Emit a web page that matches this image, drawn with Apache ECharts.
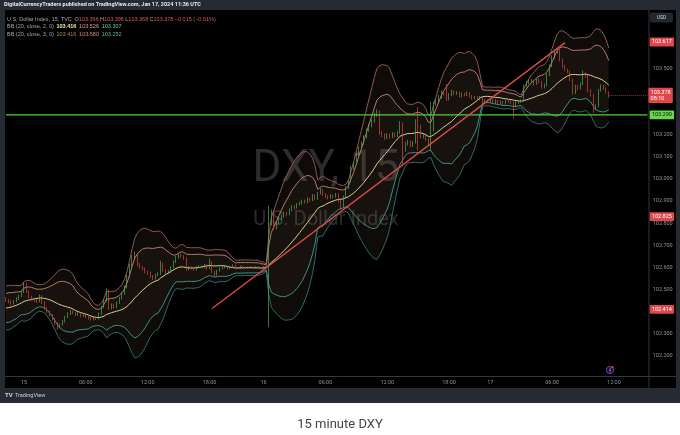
<!DOCTYPE html>
<html>
<head>
<meta charset="UTF-8">
<title>15 minute DXY</title>
<style>
  *{margin:0;padding:0;}
  html,body{background:#fff;}
  #chart{width:680px;height:435px;}
</style>
</head>
<body>
<div id="chart"></div>
<script src="https://cdn.jsdelivr.net/npm/echarts@6/dist/echarts.min.js"></script>
<script>
// 15 min closes before the visible window, only used to seed the bands
var preroll = [102.400,102.385,102.370,102.380,102.365,102.375,102.390,102.410,102.420,102.400,
  102.395,102.410,102.430,102.450,102.440,102.460,102.455,102.470,102.460];

var closes = [
  102.452,102.445,102.436,102.447,102.458,102.470,102.488,102.524,102.490,102.466,
  102.455,102.449,102.446,102.470,102.440,102.416,102.400,102.384,102.366,102.346,
  102.330,102.340,102.356,102.374,102.390,102.401,102.394,102.386,102.391,102.380,
  102.386,102.376,102.370,102.365,102.372,102.368,102.390,102.420,102.450,102.494,
  102.415,102.430,102.420,102.440,102.460,102.480,102.510,102.560,102.608,102.648,
  102.660,102.612,102.600,102.594,102.580,102.574,102.560,102.550,102.565,102.570,
  102.615,102.586,102.575,102.580,102.600,102.625,102.645,102.656,102.650,102.640,
  102.592,102.600,102.595,102.590,102.600,102.605,102.600,102.610,102.595,102.625,
  102.580,102.566,102.585,102.595,102.600,102.605,102.595,102.600,102.610,102.600,
  102.595,102.605,102.600,102.598,102.600,102.602,102.598,102.604,102.600,102.597,
  102.603,102.600,102.800,102.850,102.780,102.800,102.820,102.830,102.845,102.840,
  102.860,102.875,102.870,102.885,102.890,102.900,102.895,102.910,102.905,102.925,
  102.910,102.935,102.950,102.930,102.920,102.915,102.925,102.920,102.930,102.900,
  102.875,102.920,102.960,102.990,103.050,103.070,103.110,103.140,103.160,103.190,
  103.220,103.240,103.260,103.290,103.305,103.210,103.200,103.185,103.200,103.190,
  103.205,103.195,103.210,103.250,103.130,103.160,103.170,103.150,103.165,103.260,
  103.240,103.190,103.200,103.180,103.160,103.220,103.340,103.350,103.370,103.390,
  103.385,103.360,103.380,103.395,103.385,103.390,103.375,103.385,103.380,103.390,
  103.375,103.365,103.370,103.360,103.370,103.345,103.355,103.350,103.360,103.345,
  103.355,103.345,103.350,103.340,103.355,103.350,103.345,103.330,103.345,103.350,
  103.355,103.420,103.435,103.440,103.445,103.430,103.450,103.440,103.415,103.425,
  103.470,103.510,103.550,103.575,103.585,103.540,103.510,103.495,103.485,103.450,
  103.390,103.420,103.410,103.430,103.475,103.465,103.400,103.380,103.320,103.330,
  103.400,103.420,103.410,103.393,103.378
];

var highs = [
  102.466,102.458,102.451,102.452,102.464,102.476,102.494,102.534,102.530,102.496,
  102.472,102.462,102.456,102.478,102.474,102.446,102.422,102.405,102.390,102.372,
  102.352,102.346,102.362,102.380,102.397,102.408,102.406,102.399,102.397,102.395,
  102.392,102.390,102.381,102.375,102.378,102.377,102.396,102.426,102.457,102.505,
  102.500,102.437,102.436,102.446,102.466,102.486,102.518,102.568,102.616,102.656,
  102.672,102.665,102.620,102.606,102.600,102.586,102.580,102.566,102.571,102.578,
  102.630,102.620,102.592,102.587,102.606,102.632,102.652,102.664,102.662,102.656,
  102.645,102.606,102.605,102.600,102.605,102.610,102.609,102.615,102.614,102.640,
  102.628,102.585,102.590,102.600,102.605,102.609,102.608,102.604,102.614,102.613,
  102.603,102.608,102.607,102.603,102.603,102.605,102.604,102.606,102.606,102.602,
  102.606,102.605,102.880,102.862,102.856,102.810,102.828,102.838,102.852,102.851,
  102.867,102.882,102.881,102.891,102.897,102.907,102.906,102.917,102.915,102.932,
  102.930,102.942,102.960,102.955,102.936,102.926,102.931,102.930,102.937,102.935,
  102.905,102.926,102.968,102.998,103.058,103.080,103.118,103.148,103.170,103.198,
  103.228,103.250,103.270,103.300,103.315,103.310,103.218,103.206,103.208,103.206,
  103.213,103.210,103.218,103.262,103.256,103.168,103.178,103.175,103.172,103.270,
  103.325,103.246,103.208,103.206,103.186,103.350,103.350,103.360,103.380,103.400,
  103.398,103.430,103.388,103.403,103.400,103.397,103.395,103.391,103.390,103.396,
  103.394,103.380,103.376,103.375,103.376,103.374,103.361,103.360,103.366,103.364,
  103.361,103.359,103.356,103.354,103.360,103.360,103.355,103.350,103.351,103.356,
  103.361,103.428,103.443,103.448,103.452,103.450,103.457,103.455,103.445,103.432,
  103.478,103.518,103.560,103.585,103.595,103.590,103.546,103.516,103.500,103.490,
  103.455,103.427,103.426,103.437,103.490,103.483,103.470,103.406,103.385,103.338,
  103.408,103.428,103.425,103.415,103.396
];

var lows = [
  102.444,102.438,102.430,102.432,102.442,102.453,102.466,102.484,102.484,102.460,
  102.449,102.443,102.440,102.442,102.434,102.410,102.393,102.378,102.360,102.338,
  102.318,102.325,102.336,102.350,102.370,102.384,102.388,102.380,102.381,102.374,
  102.375,102.370,102.364,102.359,102.360,102.362,102.364,102.386,102.415,102.446,
  102.408,102.410,102.413,102.415,102.435,102.455,102.475,102.505,102.555,102.602,
  102.640,102.605,102.594,102.586,102.573,102.566,102.553,102.542,102.545,102.560,
  102.566,102.580,102.568,102.570,102.575,102.596,102.620,102.640,102.643,102.634,
  102.585,102.587,102.590,102.585,102.586,102.596,102.595,102.596,102.590,102.592,
  102.574,102.560,102.563,102.581,102.591,102.596,102.591,102.592,102.597,102.597,
  102.592,102.593,102.598,102.595,102.596,102.598,102.596,102.596,102.598,102.594,
  102.595,102.597,102.330,102.790,102.770,102.772,102.795,102.814,102.825,102.833,
  102.836,102.855,102.863,102.866,102.880,102.885,102.888,102.891,102.898,102.900,
  102.903,102.906,102.930,102.924,102.913,102.908,102.910,102.913,102.915,102.893,
  102.862,102.870,102.915,102.954,102.985,103.042,103.064,103.104,103.133,103.155,
  103.184,103.214,103.234,103.255,103.282,103.200,103.190,103.178,103.180,103.182,
  103.185,103.188,103.190,103.205,103.065,103.124,103.152,103.143,103.145,103.160,
  103.130,103.183,103.184,103.173,103.150,103.130,103.215,103.332,103.344,103.364,
  103.378,103.354,103.355,103.375,103.379,103.380,103.369,103.370,103.374,103.375,
  103.369,103.359,103.360,103.354,103.356,103.339,103.340,103.344,103.345,103.339,
  103.340,103.340,103.340,103.334,103.336,103.344,103.339,103.275,103.326,103.340,
  103.345,103.350,103.415,103.428,103.434,103.424,103.426,103.433,103.408,103.410,
  103.420,103.465,103.505,103.544,103.568,103.533,103.503,103.488,103.478,103.443,
  103.382,103.385,103.402,103.405,103.425,103.458,103.393,103.372,103.300,103.312,
  103.325,103.395,103.403,103.387,103.368
];

// trading sessions: [date, start minute of day, number of 15 min bars]
var sessions = [['2024-01-14', 1335, 7], ['2024-01-15', 0, 93], ['2024-01-16', 0, 88], ['2024-01-17', 0, 62]];

var trendIdx = [80, 217];
var trendPrice = [102.414, 103.617];
var greenLevel = 103.290;
var lastPrice = 103.378;
var redTags = [103.617, 102.825, 102.414];
var shownTicks = ['103.500','103.200','103.100','103.000','102.900','102.800','102.700','102.600','102.500','102.300','102.200'];
var timeMarks = ['00:00', '06:00', '12:00', '18:00'];

// ---- build ----
function pad(n){ return (n < 10 ? '0' : '') + n; }
var times = [];
sessions.forEach(function(s){
  for (var k = 0; k < s[2]; k++) {
    var t = s[1] + 15 * k;
    times.push(s[0] + ' ' + pad(Math.floor(t / 60)) + ':' + pad(t % 60));
  }
});

var candles = [];
for (var i = 0; i < closes.length; i++) {
  var o = i === 0 ? preroll[preroll.length - 1] : closes[i - 1];
  var c = closes[i];
  candles.push([o, c, Math.min(lows[i], o, c), Math.max(highs[i], o, c)]);
}

// Bollinger (20, close) from the closes
var all = preroll.concat(closes);
var basis = [], up2 = [], lo2 = [], up3 = [], lo3 = [], d2 = [], d3 = [];
for (var j = 0; j < closes.length; j++) {
  var w = all.slice(j, j + 20);
  var m = w.reduce(function(a, b){ return a + b; }, 0) / 20;
  var sd = Math.sqrt(w.reduce(function(a, b){ return a + (b - m) * (b - m); }, 0) / 20);
  basis.push(m);
  up2.push(m + 2 * sd); lo2.push(m - 2 * sd);
  up3.push(m + 3 * sd); lo3.push(m - 3 * sd);
  d2.push(4 * sd); d3.push(6 * sd);
}

// two-point drawings (trend line, horizontal level) as sparse series
function segment(idxA, valA, idxB, valB){
  var arr = times.map(function(){ return null; });
  arr[idxA] = valA; arr[idxB] = valB;
  return arr;
}
var trend = segment(trendIdx[0], trendPrice[0], trendIdx[1], trendPrice[1]);
var level = segment(0, greenLevel, times.length - 1, greenLevel);

var empty = closes.map(function(){ return null; });

function tagLabel(txt, bg, fg){
  return { show: true, position: 'end', distance: 1, formatter: txt, backgroundColor: bg, color: fg,
    fontSize: 5.5, fontFamily: 'Roboto', padding: [1.3, 2.2, 1, 2.2], lineHeight: 6.5, borderRadius: 1 };
}
// price tags on the right scale
function priceLine(data, lineStyle, label){
  return { type: 'line', data: empty, clip: false, silent: true, z: 6, symbol: 'none',
    markLine: { silent: true, symbol: ['none', 'none'], lineStyle: lineStyle, label: label, data: data } };
}

function band(data, color){
  return { type: 'line', data: data, symbol: 'none', silent: true, z: 2,
    lineStyle: { color: color, width: 1 } };
}
function fill(data, stack, color){
  return { type: 'line', data: data, stack: stack, symbol: 'none', silent: true, z: 1,
    lineStyle: { opacity: 0, width: 0 }, areaStyle: color ? { color: color, opacity: 1 } : null };
}

var chart = echarts.init(document.getElementById('chart'));
chart.setOption({
  animation: false,
  backgroundColor: '#ffffff',
  textStyle: { fontFamily: 'Roboto' },
  grid: { left: 4.71, right: 31.3, top: 2.2, bottom: 57.1, outerBoundsMode: 'none' },
  xAxis: {
    type: 'category', data: times, boundaryGap: true,
    axisLine: { show: false }, axisTick: { show: false }, splitLine: { show: false },
    axisLabel: {
      color: '#8e9199', fontSize: 5.5, margin: 2, hideOverlap: false,
      interval: function(idx, val){ return timeMarks.indexOf(val.slice(11)) >= 0; },
      formatter: function(val){
        var hm = val.slice(11);
        return hm === '00:00' ? String(parseInt(val.slice(8, 10), 10)) : hm;
      }
    }
  },
  yAxis: {
    type: 'value', position: 'right', min: 102.1, max: 103.8, interval: 0.1,
    axisLine: { show: false }, axisTick: { show: false }, splitLine: { show: false },
    axisLabel: {
      color: '#8e9199', fontSize: 5.5, margin: 4,
      formatter: function(v){ var s = v.toFixed(3); return shownTicks.indexOf(s) >= 0 ? s : ''; }
    }
  },
  series: [
    fill(lo3, 'f3', null),
    fill(d3, 'f3', 'rgba(135,100,80,0.11)'),
    fill(lo2, 'f2', null),
    fill(d2, 'f2', 'rgba(150,120,100,0.07)'),
    band(up3, '#8c5856'),
    band(lo3, '#2d6b66'),
    band(up2, '#b27a72'),
    band(lo2, '#3f9087'),
    band(basis, '#d8cf95'),
    {
      type: 'candlestick', data: candles, barWidth: 1.3, z: 3, silent: true,
      itemStyle: { color: '#53a959', color0: '#d9463f', borderColor: '#53a959', borderColor0: '#d9463f', borderWidth: 0.7 }
    },
    {
      type: 'line', data: level, connectNulls: true, symbol: 'none', silent: true, z: 4,
      lineStyle: { color: '#4fcf3a', width: 1.1 }
    },
    {
      type: 'line', data: trend, connectNulls: true, symbol: 'none', silent: true, z: 4,
      lineStyle: { color: '#dd4a4d', width: 1.4 }
    },
    priceLine([{ yAxis: greenLevel }], { color: 'rgba(0,0,0,0)', width: 1 },
      tagLabel(greenLevel.toFixed(3), '#66d84c', '#111')),
    priceLine([[{ coord: [closes.length - 1, lastPrice] }, { coord: [times.length - 1, lastPrice] }]],
      { color: '#7a3a3a', width: 1, type: 'dotted', opacity: 1 },
      tagLabel(lastPrice.toFixed(3) + '\n08:10', '#e0474c', '#fff')),
    priceLine(redTags.map(function(v){ return { yAxis: v, label: { formatter: v.toFixed(3) } }; }),
      { color: 'rgba(0,0,0,0)', width: 1 },
      tagLabel('', '#e0474c', '#fff'))
  ],
  graphic: [
    { type: 'rect', z: -20, shape: { x: 0, y: 0, width: 680, height: 403 }, style: { fill: '#262a33' } },
    { type: 'rect', z: -19, shape: { x: 5, y: 10, width: 671, height: 378 }, style: { fill: '#000000' } },
    { type: 'line', z: -18, shape: { x1: 649, y1: 10, x2: 649, y2: 388 }, style: { stroke: '#34373f', lineWidth: 1 } },
    { type: 'line', z: -18, shape: { x1: 5, y1: 376.5, x2: 676, y2: 376.5 }, style: { stroke: '#34373f', lineWidth: 1 } },
    { type: 'text', z: -15, x: 326, y: 170, style: { text: 'DXY, 15', fill: '#2c2c2c', fontSize: 44, fontFamily: 'Roboto', align: 'center', verticalAlign: 'middle' } },
    { type: 'text', z: -15, x: 326, y: 220, style: { text: 'U.S. Dollar Index', fill: '#2c2c2c', fontSize: 20, fontFamily: 'Roboto', align: 'center', verticalAlign: 'middle' } },
    { type: 'text', z: 50, x: 4, y: 5, style: { text: 'DigitalCurrencyTraders published on TradingView.com, Jan 17, 2024 11:36 UTC', fill: '#e6e8ee', fontSize: 5.5, fontWeight: 'bold', fontFamily: 'Roboto', verticalAlign: 'middle' } },
    { type: 'text', z: 50, x: 7, y: 19, style: {
      text: '{n|U.S. Dollar Index, 15, TVC}  {k|O}{v|103.396} {k|H}{v|103.396} {k|L}{v|103.368} {k|C}{v|103.378} {v|\u22120.015 (\u22120.01%)}',
      fontSize: 5.5, fontFamily: 'Roboto', verticalAlign: 'middle',
      rich: { n: { fill: '#a3a6af', fontSize: 5.5 }, k: { fill: '#a3a6af', fontSize: 5.5 }, v: { fill: '#e0555a', fontSize: 5.5 } } } },
    { type: 'text', z: 50, x: 7, y: 26.5, style: {
      text: '{n|BB (20, close, 2, 0)}  {a|103.416}  {b|103.526}  {c|103.307}',
      fontSize: 5.5, fontFamily: 'Roboto', verticalAlign: 'middle',
      rich: { n: { fill: '#a3a6af', fontSize: 5.5 }, a: { fill: '#f2e9a8', fontSize: 5.5, fontWeight: 'bold' }, b: { fill: '#e89a92', fontSize: 5.5 }, c: { fill: '#6cc4b4', fontSize: 5.5 } } } },
    { type: 'text', z: 50, x: 7, y: 34, style: {
      text: '{n|BB (20, close, 3, 0)}  {a|103.416}  {b|103.580}  {c|103.252}',
      fontSize: 5.5, fontFamily: 'Roboto', verticalAlign: 'middle',
      rich: { n: { fill: '#a3a6af', fontSize: 5.5 }, a: { fill: '#a8845c', fontSize: 5.5 }, b: { fill: '#d98682', fontSize: 5.5 }, c: { fill: '#5db5a6', fontSize: 5.5 } } } },
    { type: 'rect', z: 50, shape: { x: 650.5, y: 13, width: 22, height: 9, r: 1.5 }, style: { fill: '#22262f', stroke: '#3a3e48', lineWidth: 0.5 } },
    { type: 'text', z: 51, x: 661.5, y: 17.7, style: { text: 'USD', fill: '#d1d4dc', fontSize: 5, fontFamily: 'Roboto', align: 'center', verticalAlign: 'middle' } },
    { type: 'circle', z: 50, shape: { cx: 610, cy: 370, r: 3.6 }, style: { fill: '#140c1e', stroke: '#8d52cf', lineWidth: 0.8 } },
    { type: 'polyline', z: 51, shape: { points: [[610.9, 367.6], [609.2, 370.4], [610.8, 370.1], [609.3, 372.6]] }, style: { stroke: '#b27ff0', lineWidth: 0.7, fill: null } },
    { type: 'circle', z: 52, shape: { cx: 612.7, cy: 367.2, r: 0.9 }, style: { fill: '#ef5350' } },
    { type: 'text', z: 50, x: 5, y: 395.5, style: { text: 'TV', fill: '#d1d4dc', fontSize: 6, fontWeight: 'bold', fontFamily: 'Roboto', verticalAlign: 'middle' } },
    { type: 'text', z: 50, x: 15, y: 395.5, style: { text: 'TradingView', fill: '#c9ccd4', fontSize: 5.5, fontFamily: 'Roboto', verticalAlign: 'middle' } },
    { type: 'text', z: 50, x: 340, y: 425, style: { text: '15 minute DXY', fill: '#444444', fontSize: 13, fontFamily: 'Roboto', align: 'center', verticalAlign: 'middle' } }
  ]
});
</script>
</body>
</html>
